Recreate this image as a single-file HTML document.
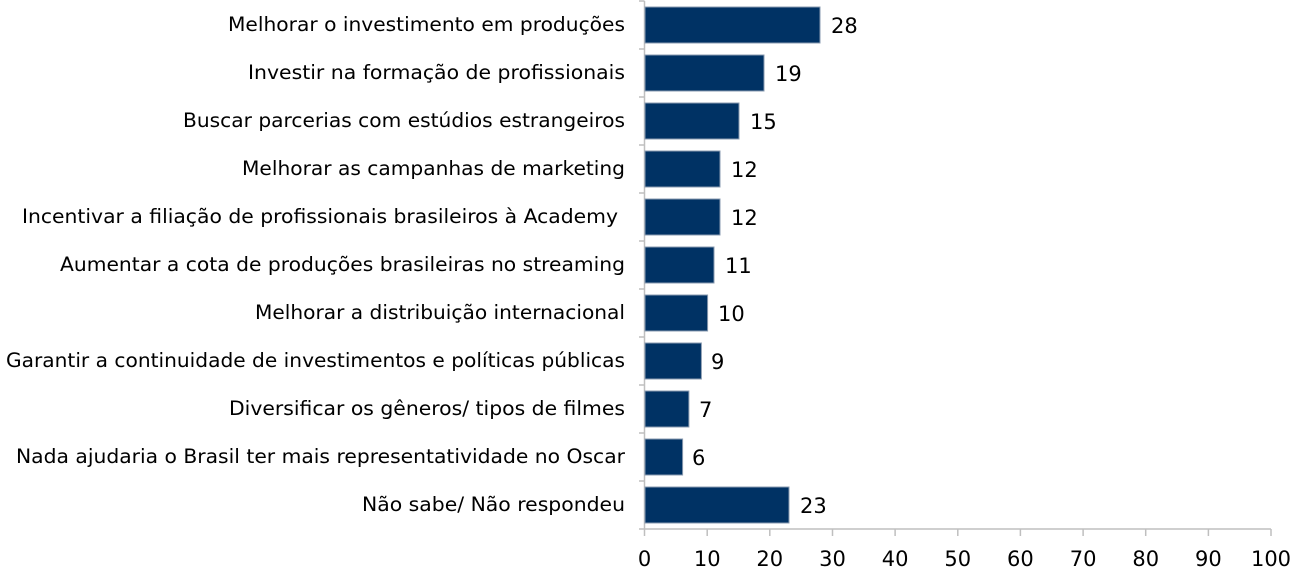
<!DOCTYPE html>
<html><head><meta charset="utf-8"><style>
body{margin:0;background:#fff}
svg text{font-family:"DejaVu Sans","Liberation Sans",sans-serif;fill:#000}
</style></head><body>
<svg width="1310" height="572" viewBox="0 0 1310 572" xmlns="http://www.w3.org/2000/svg">
<g stroke="#bfbfbf" stroke-width="1.5" fill="none">
<line x1="644.5" y1="1" x2="644.5" y2="529"/>
<line x1="644.5" y1="529" x2="1271" y2="529"/>
<path d="M639 1H644.5M639 49H644.5M639 97H644.5M639 145H644.5M639 193H644.5M639 241H644.5M639 289H644.5M639 337H644.5M639 385H644.5M639 433H644.5M639 481H644.5M639 529H644.5"/>
<path d="M644.5 529V536M707.2 529V536M769.8 529V536M832.5 529V536M895.1 529V536M957.8 529V536M1020.4 529V536M1083.1 529V536M1145.7 529V536M1208.4 529V536M1271 529V536"/>
</g>
<g fill="#003264" stroke="#8a9bb0" stroke-width="1">
<rect x="645" y="7" width="175" height="36"/>
<rect x="645" y="55" width="119" height="36"/>
<rect x="645" y="103" width="94" height="36"/>
<rect x="645" y="151" width="75" height="36"/>
<rect x="645" y="199" width="75" height="36"/>
<rect x="645" y="247" width="69" height="36"/>
<rect x="645" y="295" width="62.6" height="36"/>
<rect x="645" y="343" width="56.4" height="36"/>
<rect x="645" y="391" width="43.9" height="36"/>
<rect x="645" y="439" width="37.6" height="36"/>
<rect x="645" y="487" width="144" height="36"/>
</g>
<g font-size="19.5">
<text x="228" y="31" textLength="397" lengthAdjust="spacingAndGlyphs">Melhorar o investimento em produções</text>
<text x="248" y="79" textLength="377" lengthAdjust="spacingAndGlyphs">Investir na formação de profissionais</text>
<text x="183" y="127" textLength="442" lengthAdjust="spacingAndGlyphs">Buscar parcerias com estúdios estrangeiros</text>
<text x="242" y="175" textLength="383" lengthAdjust="spacingAndGlyphs">Melhorar as campanhas de marketing</text>
<text x="22" y="223" textLength="596" lengthAdjust="spacingAndGlyphs">Incentivar a filiação de profissionais brasileiros à Academy</text>
<text x="60" y="271" textLength="565" lengthAdjust="spacingAndGlyphs">Aumentar a cota de produções brasileiras no streaming</text>
<text x="255" y="319" textLength="370" lengthAdjust="spacingAndGlyphs">Melhorar a distribuição internacional</text>
<text x="6" y="367" textLength="619" lengthAdjust="spacingAndGlyphs">Garantir a continuidade de investimentos e políticas públicas</text>
<text x="229" y="415" textLength="396" lengthAdjust="spacingAndGlyphs">Diversificar os gêneros/ tipos de filmes</text>
<text x="16" y="463" textLength="609" lengthAdjust="spacingAndGlyphs">Nada ajudaria o Brasil ter mais representatividade no Oscar</text>
<text x="362" y="511" textLength="263" lengthAdjust="spacingAndGlyphs">Não sabe/ Não respondeu</text>
</g>
<g font-size="21">
<text x="831" y="33">28</text>
<text x="775" y="81">19</text>
<text x="750" y="129">15</text>
<text x="731" y="177">12</text>
<text x="731" y="225">12</text>
<text x="725" y="273">11</text>
<text x="718" y="321">10</text>
<text x="711" y="369">9</text>
<text x="699" y="417">7</text>
<text x="692" y="465">6</text>
<text x="800" y="513">23</text>
</g>
<g font-size="21" text-anchor="middle">
<text x="644.5" y="566">0</text><text x="707.2" y="566">10</text><text x="769.8" y="566">20</text><text x="832.5" y="566">30</text><text x="895.1" y="566">40</text><text x="957.8" y="566">50</text><text x="1020.4" y="566">60</text><text x="1083.1" y="566">70</text><text x="1145.7" y="566">80</text><text x="1208.4" y="566">90</text><text x="1271" y="566">100</text>
</g>
</svg>
</body></html>
